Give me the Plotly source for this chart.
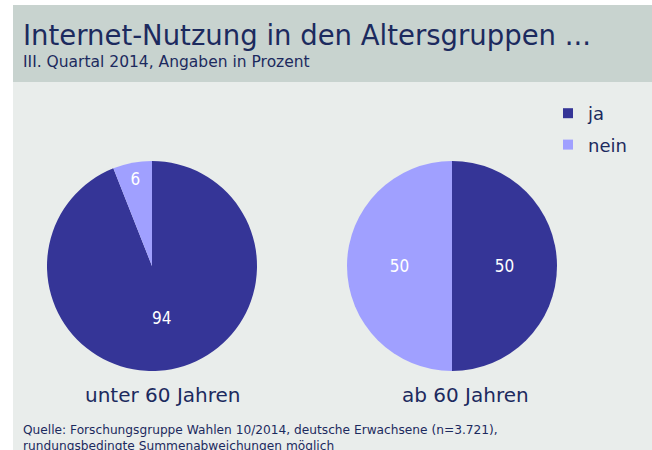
import plotly.graph_objects as go

W, H = 652, 450

categories = ["ja", "nein"]
values_unter60 = [94, 6]
values_ab60 = [50, 50]
group_labels = ["unter 60 Jahren", "ab 60 Jahren"]
colors = ["#353597", "#a0a0ff"]

title = "Internet-Nutzung in den Altersgruppen ..."
subtitle = "III. Quartal 2014, Angaben in Prozent"
source = ("Quelle: Forschungsgruppe Wahlen 10/2014, deutsche Erwachsene (n=3.721),<br>"
          "rundungsbedingte Summenabweichungen möglich")

navy = "#1c2a5e"
cond = "DejaVu Sans Condensed, DejaVu Sans, sans-serif"
wide = "DejaVu Sans, sans-serif"


def px_x(x):
    return x / W


def px_y(y):
    return 1 - y / H


def domain(cx, cy, r):
    return dict(x=[px_x(cx - r), px_x(cx + r)], y=[px_y(cy + r), px_y(cy - r)])


fig = go.Figure()
for vals, (cx, cy) in [(values_unter60, (152, 266)), (values_ab60, (452, 266))]:
    fig.add_trace(go.Pie(
        labels=categories, values=vals, sort=False, direction="clockwise", rotation=0,
        marker=dict(colors=colors, line=dict(width=0)),
        textinfo="value", textposition="inside", insidetextorientation="horizontal",
        textfont=dict(color="white", size=17, family=cond),
        domain=domain(cx, cy, 105), showlegend=False, hoverinfo="label+value",
    ))

# legend entries (one group per category for wider spacing)
for cat, col in zip(categories, colors):
    fig.add_trace(go.Scatter(
        x=[None], y=[None], mode="markers", name=cat, legendgroup=cat,
        marker=dict(symbol="square", size=10, color=col), showlegend=True,
    ))

shapes = [
    dict(type="rect", xref="paper", yref="paper", x0=px_x(13), x1=1, y0=px_y(82), y1=px_y(5),
         fillcolor="#c8d3cf", line=dict(width=0), layer="below"),
    dict(type="rect", xref="paper", yref="paper", x0=px_x(13), x1=1, y0=0, y1=px_y(82),
         fillcolor="#e9edeb", line=dict(width=0), layer="below"),
]

annotations = [
    dict(text=title, x=px_x(21), y=px_y(53), xanchor="left", yanchor="bottom",
         font=dict(size=27.5, color=navy, family=wide)),
    dict(text=subtitle, x=px_x(21), y=px_y(73), xanchor="left", yanchor="bottom",
         font=dict(size=15.5, color=navy, family=wide)),
    dict(text=group_labels[0], x=px_x(162), y=px_y(395), xanchor="center", yanchor="middle",
         font=dict(size=20, color=navy, family=wide)),
    dict(text=group_labels[1], x=px_x(465), y=px_y(395), xanchor="center", yanchor="middle",
         font=dict(size=20, color=navy, family=wide)),
    dict(text=source, x=px_x(21), y=px_y(421), xanchor="left", yanchor="top", align="left",
         font=dict(size=12.2, color=navy, family=wide)),
]
for a in annotations:
    a.update(xref="paper", yref="paper", showarrow=False)

fig.update_layout(
    width=W, height=H, margin=dict(l=0, r=0, t=0, b=0),
    paper_bgcolor="white", plot_bgcolor="rgba(0,0,0,0)",
    xaxis=dict(visible=False), yaxis=dict(visible=False),
    shapes=shapes, annotations=annotations,
    legend=dict(x=px_x(548), y=px_y(95), xanchor="left", yanchor="top",
                font=dict(size=18, color=navy, family=wide),
                bgcolor="rgba(0,0,0,0)", tracegroupgap=5, itemwidth=30),
)

fig.write_html("out.html", config={"displayModeBar": False},
               post_script="document.body.style.margin='0';")
